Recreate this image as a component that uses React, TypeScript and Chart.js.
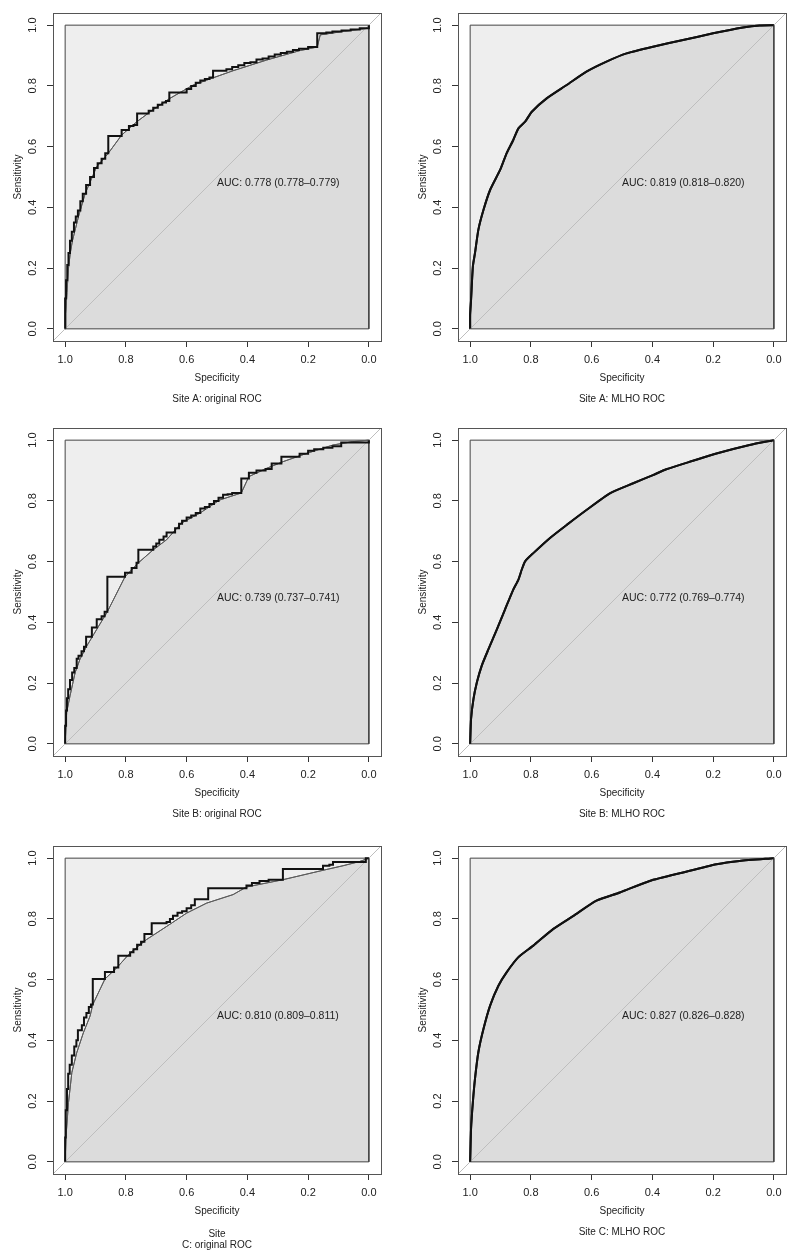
import React, { useEffect, useRef } from "react";
import { Chart, registerables } from "chart.js";

Chart.register(...registerables);

// ---------- shared axis data ----------
const TICKS = [0, 0.2, 0.4, 0.6, 0.8, 1.0];
const TICK_LABELS = ["0.0", "0.2", "0.4", "0.6", "0.8", "1.0"];
const X_TITLE = "Specificity";
const Y_TITLE = "Sensitivity";

// max-AUC rectangle (top edge for the fill, closed outline for the border) and identity line
const TOP_SPEC = [1, 0];
const TOP_SENS = [1, 1];
const RECT_SPEC = [1, 1, 0, 0, 1];
const RECT_SENS = [0, 1, 1, 0, 0];
const DIAG_SPEC = [1.04, -0.04];
const DIAG_SENS = [-0.04, 1.04];

// ---------- Site A: original ROC ----------
const A_ORIG_SMOOTH_SPEC = [1.0, 0.998, 0.994, 0.989, 0.983, 0.976, 0.966, 0.956, 0.934, 0.896, 0.858, 0.814, 0.764, 0.710, 0.655, 0.578, 0.534, 0.447, 0.337, 0.228, 0.170, 0.160, 0.080, 0.0, 0.0];
const A_ORIG_SMOOTH_SENS = [0.0, 0.05, 0.12, 0.20, 0.25, 0.29, 0.33, 0.37, 0.446, 0.534, 0.578, 0.638, 0.682, 0.722, 0.759, 0.803, 0.819, 0.850, 0.885, 0.916, 0.928, 0.968, 0.980, 0.99, 1.0];
const A_ORIG_STEP_SPEC = [1.0, 1.0, 0.997, 0.993, 0.989, 0.984, 0.978, 0.971, 0.965, 0.958, 0.950, 0.942, 0.931, 0.918, 0.905, 0.893, 0.880, 0.868, 0.858, 0.814, 0.790, 0.775, 0.763, 0.725, 0.710, 0.695, 0.680, 0.668, 0.657, 0.600, 0.585, 0.570, 0.555, 0.540, 0.525, 0.513, 0.469, 0.450, 0.430, 0.410, 0.390, 0.370, 0.350, 0.330, 0.310, 0.290, 0.270, 0.250, 0.230, 0.200, 0.170, 0.140, 0.120, 0.090, 0.060, 0.030, 0.0, 0.0];
const A_ORIG_STEP_SENS = [0.0, 0.05, 0.10, 0.16, 0.21, 0.25, 0.29, 0.32, 0.35, 0.37, 0.39, 0.42, 0.445, 0.474, 0.50, 0.53, 0.545, 0.56, 0.578, 0.635, 0.655, 0.668, 0.671, 0.709, 0.718, 0.728, 0.738, 0.745, 0.750, 0.778, 0.790, 0.800, 0.810, 0.818, 0.823, 0.828, 0.850, 0.855, 0.862, 0.868, 0.875, 0.878, 0.887, 0.890, 0.897, 0.903, 0.908, 0.912, 0.918, 0.922, 0.928, 0.973, 0.976, 0.979, 0.982, 0.986, 0.990, 1.0];

// ---------- Site A: MLHO ROC ----------
const A_MLHO_SPEC = [1.0, 1.0, 0.997, 0.991, 0.984, 0.973, 0.956, 0.934, 0.901, 0.880, 0.858, 0.841, 0.819, 0.797, 0.748, 0.682, 0.617, 0.551, 0.485, 0.398, 0.299, 0.200, 0.102, 0.047, 0.0];
const A_MLHO_SENS = [0.0, 0.047, 0.096, 0.206, 0.25, 0.326, 0.392, 0.458, 0.524, 0.578, 0.622, 0.66, 0.682, 0.715, 0.759, 0.803, 0.847, 0.88, 0.907, 0.929, 0.951, 0.973, 0.992, 0.999, 1.0];

// ---------- Site B: original ROC ----------
const B_ORIG_SMOOTH_SPEC = [1.0, 0.995, 0.984, 0.967, 0.951, 0.929, 0.896, 0.861, 0.803, 0.759, 0.710, 0.666, 0.617, 0.556, 0.491, 0.420, 0.395, 0.337, 0.283, 0.206, 0.118, 0.053, 0.0];
const B_ORIG_SMOOTH_SENS = [0.0, 0.104, 0.158, 0.235, 0.279, 0.322, 0.377, 0.435, 0.55, 0.596, 0.639, 0.672, 0.727, 0.76, 0.803, 0.826, 0.88, 0.907, 0.929, 0.956, 0.984, 0.995, 1.0];
const B_ORIG_STEP_SPEC = [1.0, 0.997, 0.994, 0.990, 0.984, 0.977, 0.970, 0.962, 0.956, 0.946, 0.938, 0.931, 0.912, 0.896, 0.880, 0.870, 0.861, 0.803, 0.781, 0.765, 0.759, 0.710, 0.700, 0.690, 0.676, 0.666, 0.638, 0.625, 0.615, 0.600, 0.585, 0.570, 0.555, 0.540, 0.525, 0.510, 0.495, 0.480, 0.465, 0.450, 0.420, 0.395, 0.370, 0.340, 0.320, 0.288, 0.228, 0.200, 0.180, 0.150, 0.120, 0.091, 0.0, 0.0];
const B_ORIG_STEP_SENS = [0.0, 0.06, 0.11, 0.15, 0.18, 0.21, 0.235, 0.25, 0.28, 0.29, 0.305, 0.32, 0.353, 0.383, 0.41, 0.42, 0.435, 0.55, 0.563, 0.579, 0.596, 0.639, 0.65, 0.66, 0.672, 0.683, 0.696, 0.71, 0.725, 0.735, 0.745, 0.752, 0.76, 0.775, 0.78, 0.79, 0.80, 0.81, 0.82, 0.822, 0.826, 0.874, 0.893, 0.90, 0.905, 0.923, 0.945, 0.955, 0.965, 0.97, 0.975, 0.98, 0.992, 1.0];

// ---------- Site B: MLHO ROC ----------
const B_MLHO_SPEC = [1.0, 0.997, 0.989, 0.978, 0.962, 0.940, 0.912, 0.885, 0.858, 0.841, 0.830, 0.819, 0.792, 0.737, 0.682, 0.617, 0.540, 0.463, 0.398, 0.354, 0.266, 0.189, 0.080, 0.0];
const B_MLHO_SENS = [0.0, 0.082, 0.148, 0.202, 0.257, 0.311, 0.377, 0.443, 0.508, 0.541, 0.574, 0.601, 0.628, 0.678, 0.721, 0.77, 0.825, 0.858, 0.885, 0.904, 0.932, 0.956, 0.984, 1.0];

// ---------- Site C: original ROC ----------
const C_ORIG_SMOOTH_SPEC = [1.0, 0.997, 0.989, 0.978, 0.962, 0.940, 0.918, 0.909, 0.869, 0.830, 0.786, 0.732, 0.666, 0.600, 0.534, 0.447, 0.403, 0.283, 0.151, 0.085, 0.030, 0.0];
const C_ORIG_SMOOTH_SENS = [0.0, 0.085, 0.195, 0.294, 0.359, 0.425, 0.48, 0.518, 0.602, 0.639, 0.688, 0.732, 0.775, 0.819, 0.852, 0.88, 0.905, 0.929, 0.96, 0.975, 0.989, 1.0];
const C_ORIG_STEP_SPEC = [1.0, 0.998, 0.994, 0.990, 0.985, 0.978, 0.970, 0.963, 0.958, 0.945, 0.938, 0.930, 0.922, 0.915, 0.909, 0.869, 0.839, 0.825, 0.786, 0.775, 0.763, 0.750, 0.739, 0.715, 0.666, 0.655, 0.645, 0.630, 0.615, 0.600, 0.585, 0.573, 0.529, 0.403, 0.385, 0.360, 0.330, 0.283, 0.151, 0.130, 0.118, 0.010, 0.0];
const C_ORIG_STEP_SENS = [0.0, 0.08, 0.17, 0.24, 0.29, 0.32, 0.35, 0.38, 0.40, 0.433, 0.45, 0.475, 0.49, 0.51, 0.518, 0.602, 0.625, 0.64, 0.679, 0.69, 0.70, 0.715, 0.725, 0.75, 0.786, 0.79, 0.80, 0.81, 0.82, 0.825, 0.835, 0.845, 0.865, 0.901, 0.91, 0.918, 0.925, 0.929, 0.964, 0.975, 0.978, 0.987, 1.0];

// ---------- Site C: MLHO ROC ----------
const C_MLHO_SPEC = [1.0, 0.997, 0.991, 0.984, 0.973, 0.956, 0.934, 0.907, 0.880, 0.841, 0.792, 0.726, 0.660, 0.584, 0.507, 0.409, 0.299, 0.189, 0.113, 0.0];
const C_MLHO_SENS = [0.0, 0.11, 0.197, 0.274, 0.361, 0.438, 0.515, 0.58, 0.624, 0.674, 0.712, 0.767, 0.81, 0.86, 0.887, 0.925, 0.953, 0.98, 0.991, 1.0];

// ---------- labels ----------
const PANEL_TITLES = [
  ["Site A: original ROC"],
  ["Site A: MLHO ROC"],
  ["Site B: original ROC"],
  ["Site B: MLHO ROC"],
  ["Site", "C: original ROC"],
  ["Site C: MLHO ROC"],
];
const AUC_LABELS = [
  "AUC: 0.778 (0.778\u20130.779)",
  "AUC: 0.819 (0.818\u20130.820)",
  "AUC: 0.739 (0.737\u20130.741)",
  "AUC: 0.772 (0.769\u20130.774)",
  "AUC: 0.810 (0.809\u20130.811)",
  "AUC: 0.827 (0.826\u20130.828)",
];

// ---------- styling / layout ----------
const FONT = '"Liberation Sans", Arial, Helvetica, sans-serif';
const COL_LIGHT = "#eeeeee";
const COL_AUC = "#dcdcdc";
const COL_BOX = "#555555";
const COL_THIN = "#5c5c5c";
const COL_CURVE = "#111111";
const COL_DIAG = "#bebebe";
const COL_TEXT = "#222222";

const CANVAS_W = 400;
const CANVAS_H = 420;

type PanelDef = {
  left: number;
  top: number;
  titleIdx: number;
  smoothSpec: number[];
  smoothSens: number[];
  stepSpec?: number[];
  stepSens?: number[];
};

const PANELS: PanelDef[] = [
  { left: 0, top: 0, titleIdx: 0, smoothSpec: A_ORIG_SMOOTH_SPEC, smoothSens: A_ORIG_SMOOTH_SENS, stepSpec: A_ORIG_STEP_SPEC, stepSens: A_ORIG_STEP_SENS },
  { left: 405, top: 0, titleIdx: 1, smoothSpec: A_MLHO_SPEC, smoothSens: A_MLHO_SENS },
  { left: 0, top: 415, titleIdx: 2, smoothSpec: B_ORIG_SMOOTH_SPEC, smoothSens: B_ORIG_SMOOTH_SENS, stepSpec: B_ORIG_STEP_SPEC, stepSens: B_ORIG_STEP_SENS },
  { left: 405, top: 415, titleIdx: 3, smoothSpec: B_MLHO_SPEC, smoothSens: B_MLHO_SENS },
  { left: 0, top: 833, titleIdx: 4, smoothSpec: C_ORIG_SMOOTH_SPEC, smoothSens: C_ORIG_SMOOTH_SENS, stepSpec: C_ORIG_STEP_SPEC, stepSens: C_ORIG_STEP_SENS },
  { left: 405, top: 833, titleIdx: 5, smoothSpec: C_MLHO_SPEC, smoothSens: C_MLHO_SENS },
];

const pts = (xs: number[], ys: number[]) => xs.map((x, i) => ({ x, y: ys[i] }));

const rocTextPlugin = {
  id: "rocText",
  afterDraw(chart: any, _args: any, opts: any) {
    const { ctx, chartArea: ca, scales } = chart;
    const xs = scales.x;
    const ys = scales.y;
    ctx.save();
    // outer plot box
    ctx.strokeStyle = COL_BOX;
    ctx.lineWidth = 1;
    ctx.strokeRect(Math.round(ca.left) + 0.5, Math.round(ca.top) + 0.5, Math.round(ca.right - ca.left), Math.round(ca.bottom - ca.top));

    ctx.fillStyle = COL_TEXT;
    ctx.font = `11px ${FONT}`;
    ctx.textAlign = "center";
    ctx.textBaseline = "middle";
    TICKS.forEach((v, i) => {
      ctx.fillText(TICK_LABELS[i], xs.getPixelForValue(v), ca.bottom + 19);
    });
    TICKS.forEach((v, i) => {
      ctx.save();
      ctx.translate(ca.left - 20, ys.getPixelForValue(v));
      ctx.rotate(-Math.PI / 2);
      ctx.fillText(TICK_LABELS[i], 0, 0);
      ctx.restore();
    });

    ctx.font = `10px ${FONT}`;
    ctx.fillText(X_TITLE, (ca.left + ca.right) / 2, ca.bottom + 37);
    ctx.save();
    ctx.translate(ca.left - 35, (ca.top + ca.bottom) / 2);
    ctx.rotate(-Math.PI / 2);
    ctx.fillText(Y_TITLE, 0, 0);
    ctx.restore();

    const lines: string[] = opts.title || [];
    const startY = lines.length > 1 ? ca.bottom + 60 : ca.bottom + 58;
    lines.forEach((ln, i) => {
      ctx.fillText(ln, (ca.left + ca.right) / 2, startY + i * 11);
    });

    ctx.font = `10.5px ${FONT}`;
    ctx.textAlign = "left";
    ctx.textBaseline = "top";
    ctx.fillText(opts.auc, xs.getPixelForValue(0.5), ys.getPixelForValue(0.5) + 1);
    ctx.restore();
  },
};

function makeScale(axis: "x" | "y") {
  return {
    type: "linear" as const,
    reverse: axis === "x",
    min: -0.04,
    max: 1.04,
    afterBuildTicks: (a: any) => {
      a.ticks = TICKS.map((v) => ({ value: v }));
    },
    afterFit: (s: any) => {
      if (axis === "x") s.height = 30;
      else s.width = 45;
    },
    grid: {
      display: true,
      drawOnChartArea: false,
      drawTicks: true,
      tickLength: 6,
      color: "#333333",
      lineWidth: 1,
    },
    border: { display: true, color: COL_BOX, width: 1 },
    ticks: { display: false },
  };
}

function RocPanel({ def }: { def: PanelDef }) {
  const ref = useRef<HTMLCanvasElement | null>(null);
  useEffect(() => {
    if (!ref.current) return;
    const isOrig = !!def.stepSpec;
    const curveTension = isOrig ? 0 : 0.2;
    const datasets: any[] = [
      {
        label: "max",
        data: pts(TOP_SPEC, TOP_SENS),
        borderWidth: 0,
        borderColor: "rgba(0,0,0,0)",
        backgroundColor: COL_LIGHT,
        fill: "origin",
        pointRadius: 0,
        order: 6,
      },
      {
        label: "auc",
        data: pts(def.smoothSpec, def.smoothSens),
        borderWidth: isOrig ? 1 : 2,
        borderColor: isOrig ? COL_THIN : COL_CURVE,
        backgroundColor: COL_AUC,
        fill: "origin",
        pointRadius: 0,
        tension: curveTension,
        order: 5,
      },
      {
        label: "box",
        data: pts(RECT_SPEC, RECT_SENS),
        borderWidth: 1,
        borderColor: "#444444",
        fill: false,
        pointRadius: 0,
        order: 4,
      },
      {
        label: "diag",
        data: pts(DIAG_SPEC, DIAG_SENS),
        borderWidth: 1,
        borderColor: COL_DIAG,
        fill: false,
        pointRadius: 0,
        order: 3,
      },
    ];
    if (isOrig) {
      datasets.push({
        label: "thin",
        data: pts(def.smoothSpec, def.smoothSens),
        borderWidth: 1,
        borderColor: COL_THIN,
        fill: false,
        pointRadius: 0,
        order: 2,
      });
      datasets.push({
        label: "step",
        data: pts(def.stepSpec!, def.stepSens!),
        borderWidth: 2,
        borderColor: COL_CURVE,
        fill: false,
        pointRadius: 0,
        stepped: "after",
        order: 1,
      });
    } else {
      datasets.push({
        label: "curve",
        data: pts(def.smoothSpec, def.smoothSens),
        borderWidth: 2,
        borderColor: COL_CURVE,
        fill: false,
        pointRadius: 0,
        tension: curveTension,
        order: 1,
      });
    }

    const chart = new Chart(ref.current, {
      type: "line",
      data: { datasets },
      options: {
        animation: false,
        responsive: false,
        devicePixelRatio: 1,
        events: [],
        layout: { padding: { left: 8, top: 13, right: 19, bottom: 49 } },
        plugins: {
          legend: { display: false },
          tooltip: { enabled: false },
          title: { display: false },
          rocText: { title: PANEL_TITLES[def.titleIdx], auc: AUC_LABELS[def.titleIdx] },
        } as any,
        scales: {
          x: makeScale("x") as any,
          y: makeScale("y") as any,
        },
      },
      plugins: [rocTextPlugin as any],
    });
    return () => chart.destroy();
  }, [def]);

  return (
    <canvas
      ref={ref}
      width={CANVAS_W}
      height={CANVAS_H}
      style={{ position: "absolute", left: def.left, top: def.top, width: CANVAS_W, height: CANVAS_H }}
    />
  );
}

export default function App() {
  return (
    <div style={{ position: "absolute", left: 0, top: 0, width: 800, height: 1259, background: "#ffffff", overflow: "hidden" }}>
      {PANELS.map((p, i) => (
        <RocPanel key={i} def={p} />
      ))}
    </div>
  );
}
